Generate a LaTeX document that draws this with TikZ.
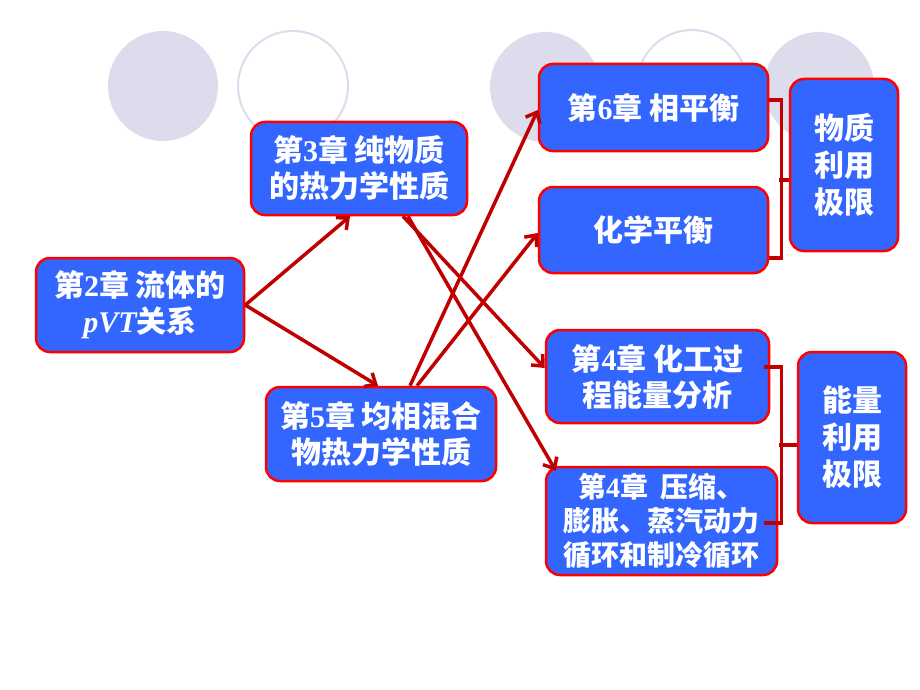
\documentclass[tikz,border=0pt]{standalone}
\usepackage{fontspec}
\usepackage{tikz}
\usetikzlibrary{arrows.meta}
\newfontfamily\cjk{Noto Sans CJK SC}
\newfontfamily\tnr{Liberation Serif}
\newcommand{\dg}[1]{{\tnr #1}}
\definecolor{boxblue}{RGB}{51,102,255}
\definecolor{linered}{RGB}{192,0,0}
\definecolor{ringgray}{RGB}{220,220,236}
\begin{document}
\begin{tikzpicture}[x=1pt, y=-1pt,
  chap/.style={draw=red, line width=2.5pt, fill=boxblue, rounded corners=14pt, text=white,
    font=\cjk\bfseries\fontsize{30}{36}\selectfont, align=center, inner sep=0pt},
  link/.style={draw=linered, line width=3.5pt, -{Straight Barb[length=9pt,width=16pt]}},
  brace/.style={draw=linered, line width=3.5pt}]
\useasboundingbox (0,0) rectangle (920,690);
%rings
\fill[ringgray] (163,86) circle[radius=55pt];
\draw[ringgray, line width=2pt] (293,86) circle[radius=55pt];
\fill[ringgray] (545,87) circle[radius=55pt];
\draw[ringgray, line width=2pt] (692,85) circle[radius=55pt];
\fill[ringgray] (819,87) circle[radius=55pt];
%boxes
\node[chap, minimum width=208pt, minimum height=94pt] (flow) at (140,305) {第\dg{2}章 流体的\\{\tnr\itshape pVT}关系};
\node[chap, minimum width=216pt, minimum height=93pt] (pure) at (359,168.5) {第\dg{3}章 纯物质\\的热力学性质};
\node[chap, minimum width=230pt, minimum height=94pt] (mix) at (381,434) {第\dg{5}章 均相混合\\物热力学性质};
\node[chap, minimum width=229pt, minimum height=87pt] (phase) at (653.5,107.5) {第\dg{6}章 相平衡};
\node[chap, minimum width=229pt, minimum height=86pt] (chem) at (653.5,230) {化学平衡};
\node[chap, minimum width=108pt, minimum height=172pt, font=\cjk\bfseries\fontsize{30}{37}\selectfont] (mlim) at (844,165) {物质\\利用\\极限};
\node[chap, minimum width=223pt, minimum height=93pt] (proc) at (657.5,376.5) {第\dg{4}章 化工过\\程能量分析};
\node[chap, minimum width=231pt, minimum height=108pt, font=\cjk\bfseries\fontsize{28}{34}\selectfont] (cyc) at (661.5,521) {第\dg{4}章\ \ 压缩、\\膨胀、蒸汽动力\\循环和制冷循环};
\node[chap, minimum width=108pt, minimum height=171pt, font=\cjk\bfseries\fontsize{30}{37}\selectfont] (elim) at (852,437.5) {能量\\利用\\极限};
%arrows
\draw[link] (flow.east) -- ([shift={(-9,0)}]pure.south);
\draw[link] (flow.east) -- ([shift={(-3,0)}]mix.north);
\draw[link] ([shift={(44,0)}]pure.south) -- ([shift={(0,-8.5)}]proc.west);
\draw[link] ([shift={(49,0)}]pure.south) -- ([shift={(11,5)}]cyc.north west);
\draw[link] ([shift={(29,0)}]mix.north) -- ([shift={(0,2.5)}]phase.west);
\draw[link] ([shift={(36,0)}]mix.north) -- ([shift={(0,3)}]chem.west);
%brackets
\draw[brace] ([shift={(0,-7.5)}]phase.east) -- ++(12,0) |- ([shift={(0,28)}]chem.east);
\draw[brace] ([shift={(-10,15)}]mlim.west) -- ([shift={(0,15)}]mlim.west);
\draw[brace] ([shift={(-6,-9.5)}]proc.east) -- ++(17,0) |- ([shift={(-14,2)}]cyc.east);
\draw[brace] ([shift={(-18,7.5)}]elim.west) -- ([shift={(0,7.5)}]elim.west);
\end{tikzpicture}
\end{document}
